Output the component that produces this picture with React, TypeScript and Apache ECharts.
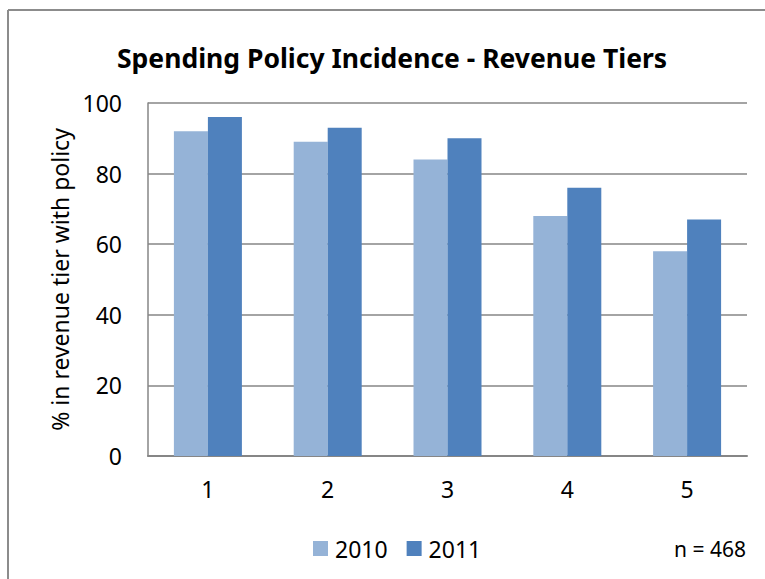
import React, { useEffect, useRef } from "react";
import * as echarts from "echarts";

const categories = ["1", "2", "3", "4", "5"];
const series2010 = [92, 89, 84, 68, 58];
const series2011 = [96, 93, 90, 76, 67];
const seriesNames = ["2010", "2011"];
const chartTitle = "Spending Policy Incidence - Revenue Tiers";
const yAxisTitle = "% in revenue tier with policy";
const noteText = "n = 468";

const FONT = "'Noto Sans', 'Open Sans', sans-serif";

export default function App() {
  const ref = useRef<HTMLDivElement>(null);
  useEffect(() => {
    if (!ref.current) return;
    const chart = echarts.init(ref.current, null, { renderer: "svg" });
    chart.setOption({
      animation: false,
      backgroundColor: "#ffffff",
      textStyle: { fontFamily: FONT },
      title: {
        text: chartTitle,
        left: 112,
        top: 39,
        textStyle: { fontFamily: FONT, fontWeight: "bold", fontSize: 26.5, color: "#000" },
      },
      legend: {
        data: seriesNames,
        bottom: 19,
        left: 313,
        padding: 0,
        itemWidth: 15,
        itemHeight: 15,
        itemGap: 19,
        icon: "rect",
        textStyle: { fontFamily: FONT, fontSize: 23, color: "#000", padding: [0, 0, 0, 2] },
      },
      grid: { left: 148, right: 18, top: 103, bottom: 123 },
      xAxis: {
        type: "category",
        data: categories,
        axisLine: { lineStyle: { color: "#868686", width: 2 } },
        axisTick: { show: false },
        axisLabel: { fontFamily: FONT, fontSize: 23, color: "#000", margin: 21 },
      },
      yAxis: {
        type: "value",
        min: 0,
        max: 100,
        interval: 20,
        name: yAxisTitle,
        nameLocation: "middle",
        nameGap: 74,
        nameTextStyle: { fontFamily: FONT, fontSize: 23, color: "#000" },
        axisLine: { show: true, lineStyle: { color: "#868686", width: 1.5 } },
        axisTick: { show: false },
        splitLine: { lineStyle: { color: "#868686", width: 1.5 } },
        axisLabel: { fontFamily: FONT, fontSize: 23, color: "#000", margin: 26 },
      },
      series: [
        {
          name: seriesNames[0],
          type: "bar",
          data: series2010,
          barWidth: 34,
          barGap: "0%",
          itemStyle: { color: "#95B3D7" },
        },
        {
          name: seriesNames[1],
          type: "bar",
          data: series2011,
          barWidth: 34,
          itemStyle: { color: "#4F81BD" },
        },
      ],
      graphic: [
        {
          type: "line",
          shape: { x1: 8, y1: 10, x2: 765, y2: 10 },
          style: { stroke: "#8c8c8c", lineWidth: 2 },
        },
        {
          type: "line",
          shape: { x1: 8, y1: 10, x2: 8, y2: 579 },
          style: { stroke: "#8c8c8c", lineWidth: 2 },
        },
        {
          type: "text",
          right: 19,
          top: 538,
          style: { text: noteText, fontFamily: FONT, fontSize: 21, fill: "#000" },
        },
      ],
    });
    return () => chart.dispose();
  }, []);
  return <div ref={ref} style={{ width: 765, height: 579, position: "absolute", left: 0, top: 0 }} />;
}
